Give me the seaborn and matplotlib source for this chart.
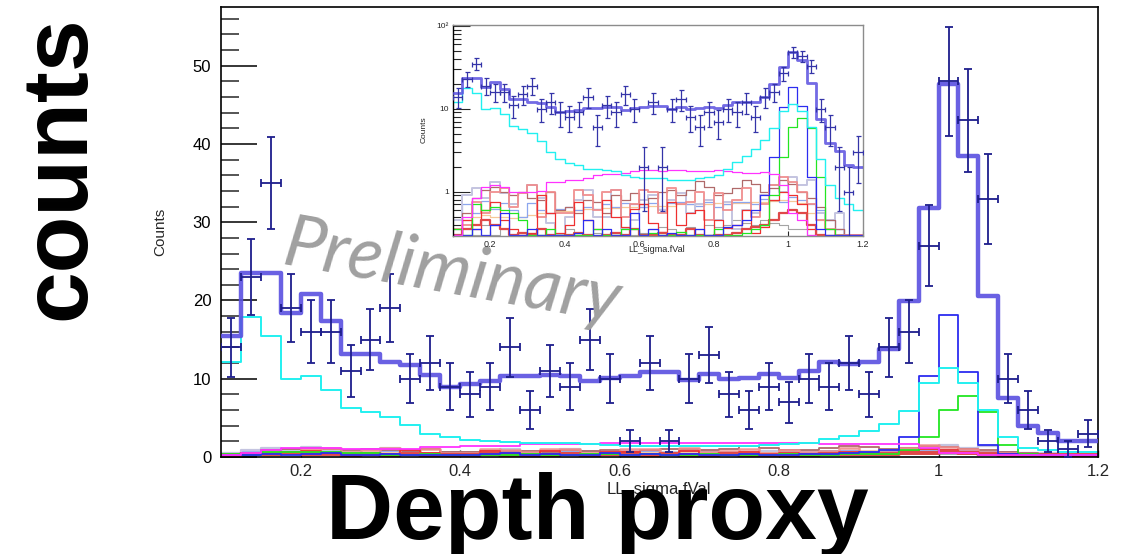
import numpy as np
import pandas as pd
import matplotlib
matplotlib.use("Agg")
import matplotlib.pyplot as plt
from matplotlib.ticker import MultipleLocator, FixedLocator, NullFormatter
import seaborn as sns

# ---- binning: 44 bins of width 0.025 on [0.1, 1.2] ----
bin_edges = [round(0.1 + 0.025 * i, 4) for i in range(45)]
bin_centers = [round(0.1125 + 0.025 * i, 4) for i in range(44)]
half_width = 0.0125

# ---- observed counts ----
data_counts = [14, 23, 35, 19, 16, 16, 11, 15, 19, 10, 12, 9, 8, 9, 14, 6, 11, 9, 15, 10,
               2, 12, 2, 10, 13, 8, 6, 9, 7, 10, 9, 12, 8, 14, 16, 27, 48, 43, 33, 10,
               6, 2, 1, 3]

# ---- total expectation ----
total_mc = [15.5, 23.5, 23.5, 18.4, 20.8, 17.4, 13.1, 13.1, 12.2, 11.8, 10.5, 9.0, 9.35, 9.7,
            10.3, 10.3, 10.5, 10.4, 9.7, 10.1, 10.4, 10.8, 10.8, 9.85, 10.6, 10.0, 10.1, 10.6,
            10.1, 11.0, 12.1, 11.9, 12.2, 13.8, 19.9, 31.8, 47.6, 38.4, 20.6, 7.5, 3.9, 3.1,
            2.1, 2.0]

# ---- individual contributions ----
cyan_bkg = [12.1, 17.9, 15.4, 10.0, 10.3, 8.6, 6.2, 5.7, 5.1, 4.1, 3.0, 2.5, 2.2, 2.1, 1.9,
            1.85, 1.8, 1.75, 1.6, 1.5, 1.45, 1.45, 1.45, 1.4, 1.38, 1.4, 1.45, 1.5, 1.6, 1.85,
            2.3, 2.7, 3.3, 4.2, 5.9, 9.4, 11.4, 9.4, 6.0, 2.5, 1.2, 0.85, 0.7, 0.6]
magenta_bkg = [0.3, 0.5, 0.85, 1.15, 1.2, 1.15, 1.0, 1.0, 1.0, 1.02, 1.3, 1.3, 1.4, 1.4, 1.45,
               1.6, 1.65, 1.65, 1.7, 1.75, 1.8, 1.8, 1.78, 1.8, 1.82, 1.78, 1.75, 1.78, 1.8,
               1.75, 1.72, 1.7, 1.7, 1.72, 1.65, 1.2, 0.55, 0.45, 0.3, 0.25, 0.2, 0.2, 0.2, 0.2]
blue_sig = [0.3, 0.3, 0.35, 0.3, 0.4, 0.55, 0.3, 0.3, 0.35, 0.3, 0.3, 0.3, 0.3, 0.32, 0.45,
            0.3, 0.35, 0.3, 0.3, 0.55, 0.3, 0.35, 0.3, 0.32, 0.3, 0.3, 0.35, 0.3, 0.3, 0.38,
            0.4, 0.45, 0.6, 0.9, 2.6, 10.4, 18.1, 10.9, 1.5, 0.35, 0.3, 0.3, 0.3, 0.3]
green_sig = [0.35, 0.3, 0.7, 0.6, 0.65, 0.6, 0.55, 0.45, 0.3, 0.3, 0.35, 0.3, 0.3, 0.3, 0.3,
             0.35, 0.3, 0.3, 0.35, 0.35, 0.3, 0.32, 0.3, 0.3, 0.33, 0.3, 0.3, 0.3, 0.35, 0.3,
             0.3, 0.32, 0.35, 0.4, 0.9, 2.6, 6.0, 7.8, 5.8, 1.5, 0.35, 0.3, 0.25, 0.25]
red_bkg = [0.3, 0.45, 0.35, 0.6, 0.75, 0.45, 0.35, 0.3, 0.32, 0.9, 0.55, 0.32, 0.4, 0.75, 0.45,
           0.35, 0.8, 0.5, 0.38, 0.62, 0.7, 0.42, 0.33, 0.75, 0.4, 0.55, 0.6, 0.3, 0.45, 0.36,
           0.4, 0.6, 0.32, 0.38, 0.8, 1.0, 0.9, 0.7, 0.35, 0.3, 0.3, 0.3, 0.3, 0.3]
salmon_bkg = [0.35, 0.4, 0.75, 0.55, 1.0, 1.1, 0.65, 0.95, 1.2, 0.5, 1.0, 0.55, 0.55, 1.05,
              0.9, 0.6, 1.0, 1.05, 0.5, 0.7, 1.05, 1.0, 0.55, 1.1, 0.7, 0.75, 1.0, 0.45, 0.95,
              0.6, 0.8, 1.1, 0.5, 0.7, 1.2, 1.5, 1.3, 1.0, 0.7, 0.45, 0.35, 0.3, 0.3, 0.3]
rosy_bkg = [0.3, 0.55, 0.85, 1.05, 1.15, 1.0, 0.9, 1.0, 0.85, 0.8, 1.0, 0.6, 0.65, 0.55, 0.8,
            0.75, 0.55, 0.9, 0.8, 0.95, 0.7, 0.85, 1.0, 1.05, 0.9, 1.05, 1.35, 1.15, 0.9, 0.95,
            1.1, 1.4, 1.25, 1.0, 1.1, 1.4, 1.25, 1.0, 0.85, 0.65, 0.45, 0.35, 0.3, 0.3]
peach_bkg = [0.35, 0.45, 0.5, 0.52, 0.5, 0.5, 0.48, 0.5, 0.52, 0.55, 0.55, 0.58, 0.58, 0.6,
             0.62, 0.62, 0.63, 0.64, 0.66, 0.65, 0.66, 0.67, 0.68, 0.68, 0.7, 0.7, 0.7, 0.7,
             0.72, 0.7, 0.72, 0.72, 0.75, 0.75, 0.78, 0.8, 0.78, 0.72, 0.55, 0.45, 0.35, 0.3,
             0.3, 0.3]
lightblue_bkg = [0.35, 0.7, 0.55, 0.78, 0.62, 0.72, 0.6, 0.5, 0.72, 0.6, 0.55, 0.62, 0.65, 0.6,
                 0.66, 0.62, 0.7, 0.66, 0.72, 0.7, 0.65, 0.72, 0.62, 0.72, 0.76, 0.7, 0.68,
                 0.74, 0.66, 0.7, 0.74, 0.76, 0.7, 0.82, 0.8, 0.76, 0.86, 0.8, 0.7, 0.6, 0.45,
                 0.35, 0.3, 0.3]
lavender_bkg = [0.45, 0.9, 1.1, 0.85, 1.3, 0.95, 0.7, 0.95, 1.2, 0.85, 0.42, 0.3, 0.5, 0.8,
                1.05, 0.5, 0.5, 1.05, 0.35, 0.45, 0.8, 0.9, 0.6, 0.8, 0.95, 0.55, 0.7, 0.8,
                0.45, 0.75, 0.35, 0.6, 0.55, 0.9, 1.2, 1.0, 1.5, 1.2, 1.4, 0.55, 0.45, 0.55,
                0.3, 0.3]
grey_bkg = [0.3, 0.35, 0.3, 0.4, 0.3, 0.35, 0.3, 0.3, 0.32, 0.3, 0.3, 0.3, 0.35, 0.3, 0.3,
            0.32, 0.3, 0.3, 0.35, 0.3, 0.32, 0.35, 0.38, 0.35, 0.33, 0.38, 0.35, 0.4, 0.38,
            0.4, 0.45, 0.42, 0.4, 0.45, 0.42, 0.4, 0.35, 0.35, 0.3, 0.3, 0.3, 0.3, 0.3, 0.3]
floor_bkg = [0.3, 0.35, 0.4, 0.45, 0.4, 0.35, 0.3, 0.32, 0.3, 0.35, 0.3, 0.28, 0.3, 0.32, 0.3,
             0.28, 0.3, 0.32, 0.3, 0.35, 0.3, 0.3, 0.32, 0.3, 0.3, 0.35, 0.3, 0.28, 0.3, 0.3,
             0.32, 0.35, 0.38, 0.4, 0.45, 0.55, 0.6, 0.55, 0.4, 0.3, 0.25, 0.2, 0.2, 0.2]

# (values, colour, main linewidth, inset linewidth, alpha)
components = [
    (grey_bkg, "#9a9a9a", 1.3, 0.8, 0.9),
    (peach_bkg, "#f6c898", 1.3, 0.9, 1.0),
    (lightblue_bkg, "#8ca6ee", 1.3, 0.9, 1.0),
    (lavender_bkg, "#c4c4e0", 1.6, 1.4, 1.0),
    (rosy_bkg, "#b06a6a", 1.3, 0.9, 1.0),
    (salmon_bkg, "#f08c8c", 1.8, 1.4, 0.9),
    (red_bkg, "#ee3030", 1.3, 0.9, 1.0),
    (floor_bkg, "#e04848", 2.8, 1.6, 1.0),
    (green_sig, "#22e622", 1.3, 0.9, 1.0),
    (blue_sig, "#2c2cf0", 1.3, 0.9, 1.0),
    (magenta_bkg, "#ff33ff", 1.3, 0.9, 1.0),
    (cyan_bkg, "#22f0f0", 1.4, 1.0, 1.0),
]

TOTAL_COLOR = "#5a50e0"
DATA_COLOR = "#1e1e8c"

sns.set_theme(style="white")
plt.rcParams["font.family"] = ["Liberation Sans", "DejaVu Sans"]

W, H = 1137, 554
fig = plt.figure(figsize=(W / 100, H / 100), dpi=100)
fig.patch.set_facecolor("white")


def px_axes(x0, y0, x1, y1):
    """Axes rectangle from pixel corners (top-left origin)."""
    return fig.add_axes([x0 / W, 1 - y1 / H, (x1 - x0) / W, (y1 - y0) / H])


def step_hist(axis, values, color, lw, alpha=1.0, z=2):
    frame = pd.DataFrame({"x": bin_centers, "w": values})
    sns.histplot(data=frame, x="x", weights="w", bins=bin_edges, element="step",
                 fill=False, color=color, linewidth=lw, alpha=alpha, ax=axis, zorder=z)


# ================= main panel =================
ax = px_axes(221, 7, 1098, 457)
ax.set_facecolor("white")
for vals, col, lw_main, lw_in, a in components:
    step_hist(ax, vals, col, lw_main, a)
step_hist(ax, total_mc, TOTAL_COLOR, 3.2, 0.9, z=4)

n = np.asarray(data_counts, float)
ax.errorbar(bin_centers, n, xerr=half_width, yerr=np.sqrt(n), fmt="none",
            ecolor=DATA_COLOR, elinewidth=1.3, capsize=3.0, capthick=1.3, zorder=6)

ax.set_xlim(0.1, 1.2)
ax.set_ylim(0, 57.5)
ax.set_xlabel("")
ax.set_ylabel("")
ax.yaxis.set_major_locator(MultipleLocator(10))
ax.yaxis.set_minor_locator(MultipleLocator(2))
ax.xaxis.set_major_locator(FixedLocator([0.2, 0.4, 0.6, 0.8, 1.0, 1.2]))
ax.set_xticklabels(["0.2", "0.4", "0.6", "0.8", "1", "1.2"])
ax.tick_params(axis="y", which="major", direction="in", length=26, width=1.1,
               labelsize=12, pad=7, left=True, colors="black")
ax.tick_params(axis="y", which="minor", direction="in", length=13, width=1.1, left=True)
ax.tick_params(axis="x", which="major", direction="in", length=5, width=1.0,
               labelsize=12, pad=5, bottom=True)
for s in ax.spines.values():
    s.set_color("black")
    s.set_linewidth(1.2)

# ================= inset (log scale) =================
axi = px_axes(453, 25, 862.5, 236)
axi.set_facecolor("white")
for vals, col, lw_main, lw_in, a in components:
    step_hist(axi, vals, col, lw_in, a)
step_hist(axi, total_mc, TOTAL_COLOR, 2.0, 0.85, z=4)
low_err = np.minimum(np.sqrt(n), n * 0.999)
axi.errorbar(bin_centers, n, xerr=half_width, yerr=[low_err, np.sqrt(n)], fmt="none",
             ecolor="#3434a8", elinewidth=0.9, capsize=1.8, capthick=0.9, zorder=6)
axi.set_yscale("log")
axi.set_xlim(0.1, 1.2)
axi.set_ylim(0.292, 102)
axi.set_xlabel("")
axi.set_ylabel("")
axi.yaxis.set_major_locator(FixedLocator([1, 10, 100]))
axi.set_yticklabels(["1", "10", "10\u00b2"])
minor_vals = [m * d for d in (0.1, 1, 10) for m in range(2, 10)]
axi.yaxis.set_minor_locator(FixedLocator([v for v in minor_vals if 0.29 < v < 100]))
axi.yaxis.set_minor_formatter(NullFormatter())
axi.xaxis.set_major_locator(FixedLocator([0.2, 0.4, 0.6, 0.8, 1.0, 1.2]))
axi.set_xticklabels(["0.2", "0.4", "0.6", "0.8", "1", "1.2"])
axi.tick_params(axis="y", which="major", direction="in", length=12, width=0.8,
                labelsize=6, pad=3, left=True)
axi.tick_params(axis="y", which="minor", direction="in", length=6, width=0.8, left=True)
axi.tick_params(axis="x", which="major", direction="in", length=3.5, width=0.8,
                labelsize=6.5, pad=3, bottom=True)
for side, s in axi.spines.items():
    s.set_linewidth(1.0)
    s.set_color("black" if side == "left" else "#8c8c8c")
axi.set_zorder(5)

fig.text(424 / W, 1 - 130 / H, "Counts", rotation=90, fontsize=6, ha="center", va="center")
fig.text(657 / W, 1 - 250 / H, "LL_sigma.fVal", fontsize=6.5, ha="center", va="center")

# ================= labels and annotations =================
fig.text(160 / W, 1 - 232 / H, "Counts", rotation=90, fontsize=11, ha="center", va="center")
fig.text(659 / W, 1 - 489 / H, "LL_sigma.fVal", fontsize=12, ha="center", va="center")

ax.text((452 - 221) / 877, 1 - (274 - 7) / 450, "Preliminary", transform=ax.transAxes,
        fontsize=52, family=["Lato", "DejaVu Sans"], style="italic", color="#a0a0a0",
        rotation=-10, rotation_mode="anchor", ha="center", va="center", zorder=7)

fig.text(60 / W, 1 - 168 / H, "counts", rotation=90, fontsize=67, fontweight="bold",
         ha="center", va="center", color="black")
fig.text(597 / W, 1 - 539 / H, "Depth proxy", fontsize=67, fontweight="bold",
         ha="center", va="baseline", color="black")

fig.savefig("out.png", dpi=100, facecolor="white")
